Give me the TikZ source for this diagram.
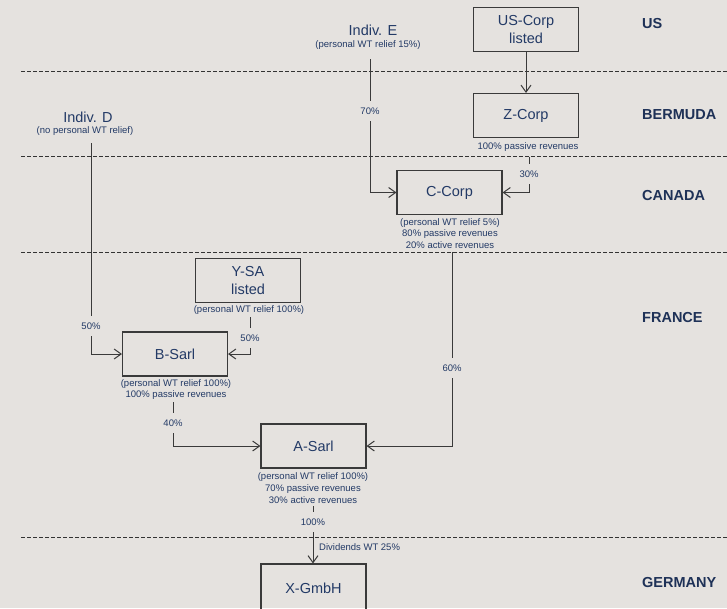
\documentclass[tikz,border=0pt]{standalone}
\usepackage{fontspec}
\setmainfont{Liberation Sans}
\usetikzlibrary{arrows.meta}
\definecolor{paper}{HTML}{E5E2DF}
\definecolor{ink}{HTML}{233A66}
\definecolor{wire}{HTML}{3A3A3A}
\begin{document}
\begin{tikzpicture}[x=1pt,y=-1pt,
    box/.style={draw=wire,line width=1.1pt,rectangle,minimum width=105pt,minimum height=44pt,inner sep=0pt,align=center,text=ink,font=\fontsize{14.5}{17.5}\selectfont},
    who/.style={text=ink,inner sep=0pt,font=\fontsize{14.5}{17}\selectfont},
    note/.style={text=ink,inner sep=1pt,align=center,font=\fontsize{9.5}{11.6}\selectfont},
    pct/.style={text=ink,inner sep=1pt,minimum height=20pt,font=\fontsize{9.5}{11}\selectfont},
    land/.style={text=ink!85!black,anchor=west,inner sep=0pt,font=\bfseries\fontsize{14.5}{17}\selectfont},
    border/.style={black!80,line width=1pt,dash pattern=on 4pt off 2pt},
    link/.style={wire,line width=1pt},
    own/.style={link,-{Straight Barb[length=7pt,width=10pt]}}
  ]
  \fill[paper] (0,0) rectangle (727,608);
  \useasboundingbox (0,0) rectangle (727,608);

  % country borders
  \draw[border] (21,71) -- (727,71);
  \draw[border] (21,156) -- (727,156);
  \draw[border] (21,252) -- (727,252);
  \draw[border] (21,537) -- (727,537);

  \node[land] (us) at (642,24) {US};
  \node[land] (bermuda) at (642,115) {BERMUDA};
  \node[land] (canada) at (642,196) {CANADA};
  \node[land] (france) at (642,318) {FRANCE};
  \node[land] (germany) at (642,582) {GERMANY};

  % shareholders
  \node[who] (indE) at (373,30) {Indiv. E};
  \node[note] (indEnote) at (368,45) {(personal WT relief 15\%)};
  \node[who] (indD) at (88,117) {Indiv. D};
  \node[note] (indDnote) at (85,131) {(no personal WT relief)};

  % companies
  \node[box] (uscorp) at (526,29.5) {US-Corp\\listed};
  \node[box] (zcorp) at (526,115.5) {Z-Corp};
  \node[note] (zcorpnote) at (528,147) {100\% passive revenues};
  \node[box] (ccorp) at (449.5,192.5) {C-Corp};
  \node[note] (ccorpnote) at (450,233.5) {(personal WT relief 5\%)\\80\% passive revenues\\20\% active revenues};
  \node[box] (ysa) at (248,280.5) {Y-SA\\listed};
  \node[note] (ysanote) at (249,310) {(personal WT relief 100\%)};
  \node[box] (bsarl) at (175,354) {B-Sarl};
  \node[note] (bsarlnote) at (176,389.5) {(personal WT relief 100\%)\\100\% passive revenues};
  \node[box] (asarl) at (313.5,446) {A-Sarl};
  \node[note] (asarlnote) at (313,488) {(personal WT relief 100\%)\\70\% passive revenues\\30\% active revenues};
  \node[box,minimum height=48pt] (xgmbh) at (313.5,588) {X-GmbH};

  % holdings
  \draw[own] (uscorp) -- (zcorp);

  \coordinate (eTop) at (370,59);
  \node[pct] (pE) at (370,111) {70\%};
  \draw[link] (eTop) -- (pE);
  \draw[own] (pE) |- (ccorp.west);

  \coordinate (zTop) at (529,157);
  \node[pct] (pZ) at (529,174) {30\%};
  \draw[link] (zTop) -- (pZ);
  \draw[own] (pZ) |- (ccorp.east);

  \coordinate (dTop) at (91,143);
  \node[pct] (pD) at (91,326) {50\%};
  \draw[link] (dTop) -- (pD);
  \draw[own] (pD) |- (bsarl.west);

  \coordinate (yTop) at (250,317);
  \node[pct] (pY) at (250,338) {50\%};
  \draw[link] (yTop) -- (pY);
  \draw[own] (pY) |- (bsarl.east);

  \coordinate (bTop) at (173,402);
  \node[pct] (pB) at (173,423) {40\%};
  \draw[link] (bTop) -- (pB);
  \draw[own] (pB) |- (asarl.west);

  \coordinate (cTop) at (452,252);
  \node[pct] (pC) at (452,368) {60\%};
  \draw[link] (cTop) -- (pC);
  \draw[own] (pC) |- (asarl.east);

  \coordinate (aTop) at (313,506);
  \node[pct] (pA) at (313,522) {100\%};
  \draw[link] (aTop) -- (pA);
  \draw[own] (pA) -- (pA |- xgmbh.north);
  \node[note,anchor=west] (wht) at (318,547) {Dividends WT 25\%};
\end{tikzpicture}
\end{document}
